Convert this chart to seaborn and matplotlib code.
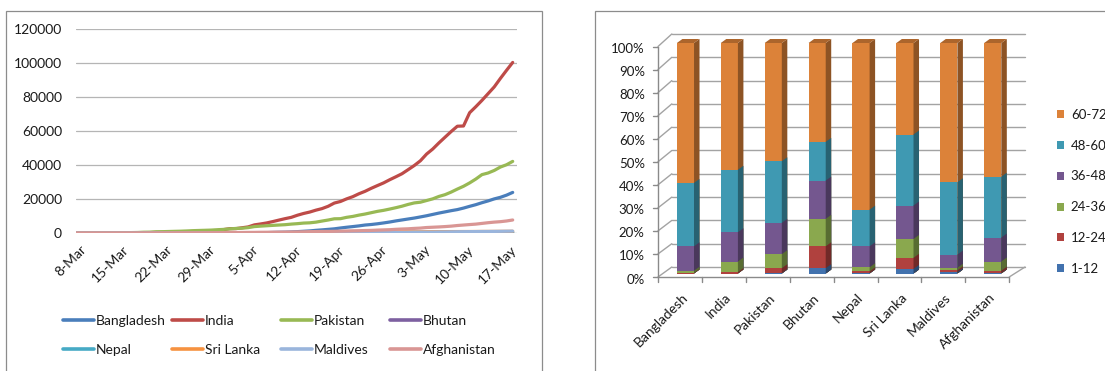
import numpy as np
import pandas as pd
import matplotlib
matplotlib.use("Agg")
import matplotlib.pyplot as plt
import matplotlib.transforms as mtrans
from matplotlib.patches import Polygon, Rectangle, Patch
from matplotlib.lines import Line2D
import seaborn as sns

# ---------------- data: cumulative cases (8-Mar .. 18-May) ----------------
countries = ["Bangladesh", "India", "Pakistan", "Bhutan",
             "Nepal", "Sri Lanka", "Maldives", "Afghanistan"]

bangladesh = [3, 3, 3, 3, 3, 3, 3, 5, 8, 10, 14, 17, 20, 24, 27, 33, 39, 39, 44, 48, 48, 48, 49, 51,
              54, 56, 61, 70, 88, 123, 164, 218, 330, 424, 482, 621, 803, 1012, 1231, 1572, 1838, 2144,
              2456, 2948, 3382, 3772, 4186, 4689, 4998, 5416, 5913, 6462, 7103, 7667,
              8238, 8790, 9455, 10143, 10929, 11719, 12425, 13134, 13770, 14657, 15691, 16660, 17822,
              18863, 20065, 20995, 22268, 23870]
india = [39, 43, 56, 62, 73, 82, 102, 113, 119, 142, 156, 194, 244, 330, 396, 499, 536, 657, 727, 887,
         987, 1024, 1251, 1397,
         1998, 2543, 2567, 3082, 3588, 4778, 5311, 5916, 6725, 7598, 8446, 9205, 10453, 11487, 12322,
         13430, 14352, 15722, 17615, 18539, 20080, 21370, 23077, 24530, 26283, 27890, 29451, 31324,
         33062, 34863,
         37257, 39699, 42505, 46437, 49400, 52987, 56351, 59695, 62808, 62939, 70756, 74281, 78003,
         81970, 85940, 90927, 95698, 100328]
pakistan = [6, 6, 16, 19, 20, 21, 28, 53, 136, 236, 299, 454, 501, 730, 776, 875, 972, 1063, 1201,
            1373, 1495, 1597, 1717, 1938,
            2118, 2421, 2686, 2818, 3157, 3766, 4035, 4263, 4489, 4695, 4892, 5230, 5496, 5837, 5988,
            6383, 7025, 7638, 8348, 8418, 9216, 9749, 10513, 11155, 11940, 12723, 13328, 14079,
            14885, 15759,
            16817, 17699, 18114, 19103, 20084, 21501, 22550, 24073, 25837, 27474, 29465, 31728,
            34336, 35298, 36788, 38799, 40151, 42125]
bhutan = [1, 1, 1, 1, 1, 1, 1, 1, 1, 1, 1, 1, 2, 2, 2, 2, 2, 2, 3, 3, 3, 3, 4, 4,
          4, 5, 5, 5, 5, 5, 5, 5, 5, 5, 5, 5, 5, 5, 5, 5, 5, 5, 5, 6, 6, 7, 7, 7, 7, 7, 7, 7, 7, 7,
          7, 7, 7, 7, 7, 7, 7, 7, 7, 7, 7, 7, 7, 7, 7, 21, 21, 21]
nepal = [1, 1, 1, 1, 1, 1, 1, 1, 1, 1, 1, 1, 1, 1, 1, 2, 2, 3, 3, 4, 5, 5, 5, 5,
         5, 5, 6, 6, 9, 9, 9, 9, 9, 9, 9, 12, 12, 16, 16, 16, 30, 31, 31, 31, 42, 45, 48, 49, 49,
         52, 52, 54, 57, 57,
         59, 75, 75, 82, 99, 101, 102, 110, 134, 217, 217, 249, 249, 267, 281, 291, 304, 375]
sri_lanka = [1, 1, 1, 2, 2, 6, 10, 18, 28, 44, 51, 60, 73, 77, 87, 97, 102, 102, 106, 106, 113, 117,
             122, 143,
             146, 151, 159, 166, 176, 178, 185, 189, 190, 197, 198, 199, 210, 218, 233, 238, 244,
             254, 295, 304, 310, 330, 368, 420, 460, 523, 588, 619, 649, 665,
             690, 705, 718, 751, 771, 797, 824, 835, 847, 863, 869, 889, 915, 925, 935, 960, 981, 992]
maldives = [4, 8, 8, 8, 8, 8, 9, 13, 13, 13, 13, 13, 13, 13, 13, 13, 13, 13, 13, 13, 16, 17, 17, 17,
            18, 19, 19, 19, 19, 19, 19, 19, 19, 19, 20, 20, 20, 20, 20, 21, 21, 22, 22, 24, 35, 69,
            86, 129, 177, 200, 214, 245, 278, 280,
            415, 491, 519, 527, 538, 613, 641, 692, 744, 789, 809, 835, 886, 902, 940, 977, 1031, 1094]
afghanistan = [4, 4, 5, 7, 7, 7, 11, 16, 21, 22, 22, 22, 24, 24, 40, 40, 74, 84, 94, 110, 110, 120,
               170, 174,
               237, 273, 281, 299, 349, 367, 423, 444, 484, 521, 555, 607, 665, 714, 784, 840, 906,
               933, 996, 1092, 1176, 1279, 1351, 1463, 1531, 1703, 1828, 1939, 2171, 2335,
               2469, 2704, 2894, 3224, 3392, 3563, 3778, 4033, 4402, 4687, 4963, 5226, 5639, 6053,
               6402, 6664, 7072, 7653]

date_ticks = ["8-Mar", "15-Mar", "22-Mar", "29-Mar", "5-Apr", "12-Apr",
              "19-Apr", "26-Apr", "3-May", "10-May", "17-May"]
y_ticks_left = [0, 20000, 40000, 60000, 80000, 100000, 120000]

# ---------------- data: age-group shares (%) ----------------
age_groups = ["1-12", "12-24", "24-36", "36-48", "48-60", "60-72"]
share_1_12 = [0.0, 0.0, 0.2, 2.3, 0.1, 2.0, 0.6, 0.1]
share_12_24 = [0.2, 0.6, 2.1, 9.5, 0.8, 4.8, 0.8, 1.1]
share_24_36 = [1.0, 4.6, 6.1, 11.9, 1.8, 8.2, 1.1, 4.0]
share_36_48 = [10.6, 12.7, 13.6, 16.6, 9.1, 14.5, 5.7, 10.4]
share_48_60 = [27.5, 27.1, 26.7, 16.8, 15.9, 30.8, 31.4, 26.4]
share_60_72 = [60.7, 55.0, 51.3, 42.9, 72.3, 39.7, 60.4, 58.0]

# ---------------- styling ----------------
line_colors = {"Bangladesh": "#4A7EBB", "India": "#BE4B48", "Pakistan": "#98B954",
               "Bhutan": "#7D60A0", "Nepal": "#46AAC5", "Sri Lanka": "#F69240",
               "Maldives": "#9AB5DC", "Afghanistan": "#D99694"}
bar_front = ["#4272AE", "#B0413E", "#8AA84E", "#74578F", "#3F99B2", "#DC8239"]
TXT = "#1a1a1a"

sns.set_theme(style="white")
plt.rcParams["font.family"] = ["Lato", "DejaVu Sans"]

W, H = 1105, 371
fig = plt.figure(figsize=(W / 100, H / 100), dpi=100)
fig.patch.set_facecolor("white")


def fx(px):
    return px / W


def fy(py):
    return 1 - py / H


def shift(dx_px, dy_px):
    return mtrans.ScaledTranslation(dx_px / 100, -dy_px / 100, fig.dpi_scale_trans)


# panel borders
fig.add_artist(Rectangle((fx(6), fy(390)), fx(542) - fx(6), fy(11) - fy(390),
                         transform=fig.transFigure, fill=False, ec="#8c8c8c", lw=0.9))
fig.add_artist(Rectangle((fx(595), fy(390)), fx(1120) - fx(595), fy(11) - fy(390),
                         transform=fig.transFigure, fill=False, ec="#8c8c8c", lw=0.9))

# ================= left: line chart =================
series = [bangladesh, india, pakistan, bhutan, nepal, sri_lanka, maldives, afghanistan]
rows = []
for name, vals in zip(countries, series):
    for d, v in enumerate(vals):
        rows.append((d, name, v))
df = pd.DataFrame(rows, columns=["day", "country", "cases"])

ax1 = fig.add_axes([fx(76), fy(233), (517 - 76) / W, (233 - 29) / H])
sns.lineplot(data=df, x="day", y="cases", hue="country", hue_order=countries,
             palette=line_colors, linewidth=2.3, legend=False, ax=ax1,
             estimator=None, sort=False)
ax1.set_xlim(0, 71.7)
ax1.set_ylim(0, 120000)
ax1.set_yticks(y_ticks_left)
ax1.set_yticklabels([str(v) for v in y_ticks_left], fontsize=10, color=TXT)
ax1.set_xticks(np.arange(len(date_ticks)) * 7)
ax1.set_xticklabels(date_ticks, fontsize=10, color=TXT)
ax1.set_xlabel("")
ax1.set_ylabel("")
ax1.grid(axis="y", color="#b5b5b5", lw=0.9)
ax1.set_axisbelow(True)
for s in ax1.spines.values():
    s.set_visible(False)
ax1.tick_params(axis="y", length=0, pad=10)
ax1.tick_params(axis="x", length=0, pad=10.5)
for lab in ax1.get_xticklabels():
    lab.set_rotation(45)
    lab.set_ha("right")
    lab.set_va("center")
    lab.set_rotation_mode("anchor")
    lab.set_transform(lab.get_transform() + shift(8, 0))

# legend, 4 fixed columns x 2 rows
col_x = [63, 172, 281, 390]
for j in range(4):
    names = [countries[j], countries[j + 4]]
    handles = [Line2D([], [], color=line_colors[n], lw=2.6) for n in names]
    leg = fig.legend(handles, names, loc="upper left",
                     bbox_to_anchor=(fx(col_x[j]), fy(315)), frameon=False,
                     fontsize=10, handlelength=2.2, handletextpad=0.15,
                     labelspacing=1.22, borderpad=0, borderaxespad=0)
    for t in leg.get_texts():
        t.set_color(TXT)

# ================= right: 100% stacked 3-D style bars =================
shares = [share_1_12, share_12_24, share_24_36, share_36_48, share_48_60, share_60_72]
shares = np.array(shares, dtype=float)
shares = shares / shares.sum(axis=0) * 100
cum = np.cumsum(shares, axis=0)

CAT_PX = 43.9
VAL_PX = 2.305
ax2 = fig.add_axes([fx(663.5), fy(273.5), 8 * CAT_PX / W, 100 * VAL_PX / H])
ax2.set_xlim(-0.5, 7.5)
ax2.set_ylim(0, 100)

# walls (back / left / floor)
GRID = "#a3a3a3"
xf0 = -0.5 - 5.5 / CAT_PX
xb0, xb1 = -0.31, 7.735
xf1 = xf0 + 8


def yf(v):
    return -1.52 + 1.0 * v


def yb(v):
    return 2.82 + 1.011 * v


for v in range(0, 101, 10):
    ax2.plot([xb0, xb1], [yb(v), yb(v)], color=GRID, lw=1.0, clip_on=False, zorder=1)
    ax2.plot([xf0, xb0], [yf(v), yb(v)], color=GRID, lw=1.0, clip_on=False, zorder=1)
    ax2.plot([xf0, xf0 - 5 / CAT_PX], [yf(v), yf(v)], color="#8a8a8a", lw=1.0,
             clip_on=False, zorder=1)
ax2.plot([xf0, xf0], [yf(0), yf(100)], color="#8a8a8a", lw=1.0, clip_on=False, zorder=1)
ax2.plot([xf0, xf1], [yf(0), yf(0)], color="#8a8a8a", lw=1.0, clip_on=False, zorder=1)
ax2.plot([xf1, xb1], [yf(0), yb(0)], color=GRID, lw=1.0, clip_on=False, zorder=1)
for i in range(9):
    ax2.plot([xf0 + i, xf0 + i], [yf(0), yf(0) - 5 / VAL_PX], color="#8a8a8a", lw=1.0,
             clip_on=False, zorder=1)


def darker(c, f):
    r, g, b = matplotlib.colors.to_rgb(c)
    return (r * f, g * f, b * f)


DX = 5.5 / CAT_PX
DY = 4.0 / VAL_PX
for k in range(len(age_groups) - 1, -1, -1):
    before = len(ax2.patches)
    sns.barplot(x=countries, y=cum[k], order=countries, color=bar_front[k], saturation=1,
                width=0.39, linewidth=0, ax=ax2, zorder=3, errorbar=None)
    new = list(ax2.patches[before:])
    for p in new:
        x0 = p.get_x()
        x1 = x0 + p.get_width()
        b = p.get_y()
        t = b + p.get_height()
        side = Polygon([(x1, b), (x1 + DX, b + DY), (x1 + DX, t + DY), (x1, t)],
                       closed=True, fc=darker(bar_front[k], 0.64), ec="none",
                       zorder=3, clip_on=False)
        ax2.add_patch(side)
        if k == len(age_groups) - 1:
            top = Polygon([(x0, t), (x0 + DX, t + DY), (x1 + DX, t + DY), (x1, t)],
                          closed=True, fc=darker(bar_front[k], 0.78), ec="none",
                          zorder=3, clip_on=False)
            ax2.add_patch(top)
        p.set_clip_on(False)

ax2.set_xlim(-0.5, 7.5)
ax2.set_ylim(0, 100)
for s in ax2.spines.values():
    s.set_visible(False)
ax2.set_facecolor("none")
ax2.grid(False)
ax2.set_xlabel("")
ax2.set_ylabel("")
ax2.set_yticks(range(0, 101, 10))
ax2.set_yticklabels([f"{v}%" for v in range(0, 101, 10)], fontsize=9.5, color=TXT)
ax2.tick_params(axis="y", length=0, pad=13.5)
for lab in ax2.get_yticklabels():
    lab.set_transform(lab.get_transform() + shift(0, 5))
ax2.set_xticks(range(len(countries)))
ax2.set_xticklabels(countries, fontsize=10, color=TXT)
ax2.tick_params(axis="x", length=0, pad=16)
for lab in ax2.get_xticklabels():
    lab.set_rotation(45)
    lab.set_ha("right")
    lab.set_va("center")
    lab.set_rotation_mode("anchor")
    lab.set_transform(lab.get_transform() + shift(0, 0))

leg_handles = [Patch(facecolor=bar_front[k], edgecolor="none") for k in range(5, -1, -1)]
leg_labels = [age_groups[k] for k in range(5, -1, -1)]
leg2 = fig.legend(leg_handles, leg_labels, loc="upper left",
                  bbox_to_anchor=(fx(1057), fy(109)), frameon=False, fontsize=9.5,
                  handlelength=0.55, handleheight=0.55, handletextpad=0.5,
                  labelspacing=1.42, borderpad=0, borderaxespad=0)
for t in leg2.get_texts():
    t.set_color(TXT)

fig.savefig("out.png", dpi=100, facecolor="white")
